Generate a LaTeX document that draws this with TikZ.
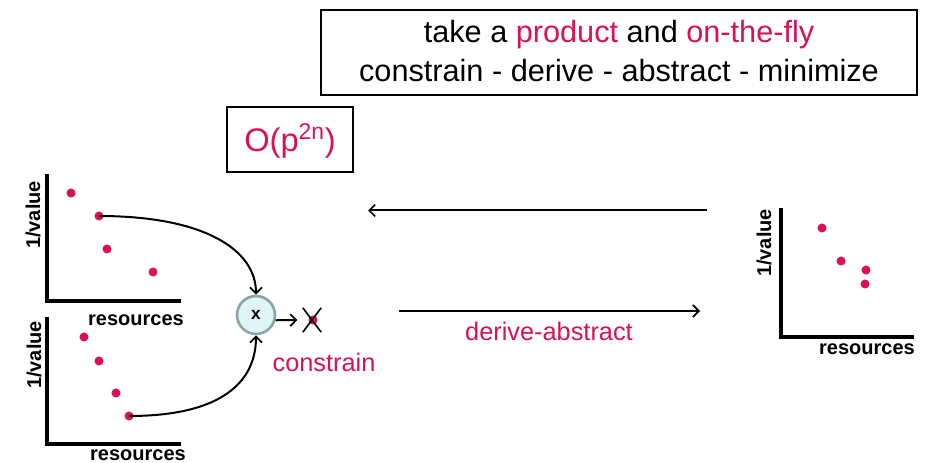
\documentclass[tikz,border=0pt]{standalone}
\usepackage{fontspec}
\setmainfont{Liberation Sans}
\usetikzlibrary{arrows.meta}
\definecolor{crim}{RGB}{218,18,82}
\definecolor{cfill}{RGB}{224,246,246}
\definecolor{cline}{RGB}{138,166,166}
\tikzset{
  pdot/.style={circle,fill=crim,inner sep=0pt,minimum size=6.8pt},
  axis/.style={line width=2.4pt},
  axlabel/.style={font=\bfseries\fontsize{15}{18}\selectfont,inner sep=0pt},
  curvearrow/.style={line width=1.5pt,-{Straight Barb[length=4.5pt,width=9pt,line width=1.3pt]}},
  longarrow/.style={line width=1.5pt,-{Straight Barb[length=4.5pt,width=9pt,line width=1.3pt]}},
  framebox/.style={draw,line width=2pt,inner sep=0pt},
  redtext/.style={text=crim,inner sep=0pt}
}
\begin{document}
\begin{tikzpicture}[x=0.75pt,y=-0.75pt]
\useasboundingbox (0,0) rectangle (931,463);

% top box
\node[framebox,minimum width=596*0.75pt,minimum height=85*0.75pt] (title) at (619,52.5) {};
\node[inner sep=0pt,font=\fontsize{23}{27}\selectfont] (t1) at (619,35) {take a \textcolor{crim}{product} and \textcolor{crim}{on-the-fly}};
\node[inner sep=0pt,font=\fontsize{23}{27}\selectfont] (t2) at (619,71) {constrain - derive - abstract - minimize};

% complexity box
\node[framebox,minimum width=126*0.75pt,minimum height=65*0.75pt] (cbox) at (290,139.5) {};
\node[redtext,font=\fontsize{24.5}{28}\selectfont] (ctext) at (290,141) {O(p\textsuperscript{2n})};

% top-left plot
\coordinate (a0) at (47,301);
\coordinate (ay) at (47,174);
\coordinate (ax) at (181,301);
\draw[axis] (ay) -- (a0) -- (ax);
\node[axlabel,rotate=90] (aly) at (33,215) {1/value};
\node[axlabel,anchor=base] (alx) at (136,325) {resources};
\node[pdot] (d1) at (71,193) {};
\node[pdot] (d2) at (99,216) {};
\node[pdot] (d3) at (107,249) {};
\node[pdot] (d4) at (153,272) {};

% bottom-left plot
\coordinate (b0) at (47,444);
\coordinate (by) at (47,317);
\coordinate (bx) at (181,444);
\draw[axis] (by) -- (b0) -- (bx);
\node[axlabel,rotate=90] (bly) at (34,355) {1/value};
\node[axlabel,anchor=base] (blx) at (138,460) {resources};
\node[pdot] (e1) at (84,337) {};
\node[pdot] (e2) at (99,361) {};
\node[pdot] (e3) at (116,393) {};
\node[pdot] (e4) at (129,416) {};

% product node
\node[circle,draw=cline,fill=cfill,line width=2pt,minimum size=38*0.75pt,inner sep=0pt,font=\bfseries\fontsize{13}{15}\selectfont] (mult) at (256,315) {x};
\draw[curvearrow] (d2.center) .. controls +(105,0) and +(0,-45) .. (mult.north);
\draw[curvearrow] (e4.center) .. controls +(95,0) and +(0,45) .. (mult.south);

% crossed result
\node[inner sep=0pt,minimum width=18*0.75pt,minimum height=24*0.75pt] (xc) at (312,320) {};
\node[pdot] (xdot) at (313,320) {};
\draw[line width=1.2pt] (xc.north west) -- (xc.south east);
\draw[line width=1.2pt] (xc.south west) -- (xc.north east);
\draw[longarrow,shorten >=4pt] (mult.-15) -- (xc.west);
\node[redtext,font=\fontsize{19}{22}\selectfont] (constr) at (324,362) {constrain};

% long arrows
\coordinate (la1) at (707,210.5);
\coordinate (la2) at (368,210.5);
\draw[longarrow] (la1) -- (la2);
\coordinate (lb1) at (399,311);
\coordinate (lb2) at (700,311);
\draw[longarrow] (lb1) -- (lb2);
\node[redtext,font=\fontsize{19}{22}\selectfont] (da) at (549,331) {derive-abstract};

% right plot
\coordinate (c0) at (781,337);
\coordinate (cy) at (781,208);
\coordinate (cx) at (914,337);
\draw[axis] (cy) -- (c0) -- (cx);
\node[axlabel,rotate=90] (cly) at (764,243) {1/value};
\node[axlabel,anchor=base] (clx) at (867,354) {resources};
\node[pdot] (f1) at (822,228) {};
\node[pdot] (f2) at (841,261) {};
\node[pdot] (f3) at (866,270) {};
\node[pdot] (f4) at (865,284) {};
\end{tikzpicture}
\end{document}
